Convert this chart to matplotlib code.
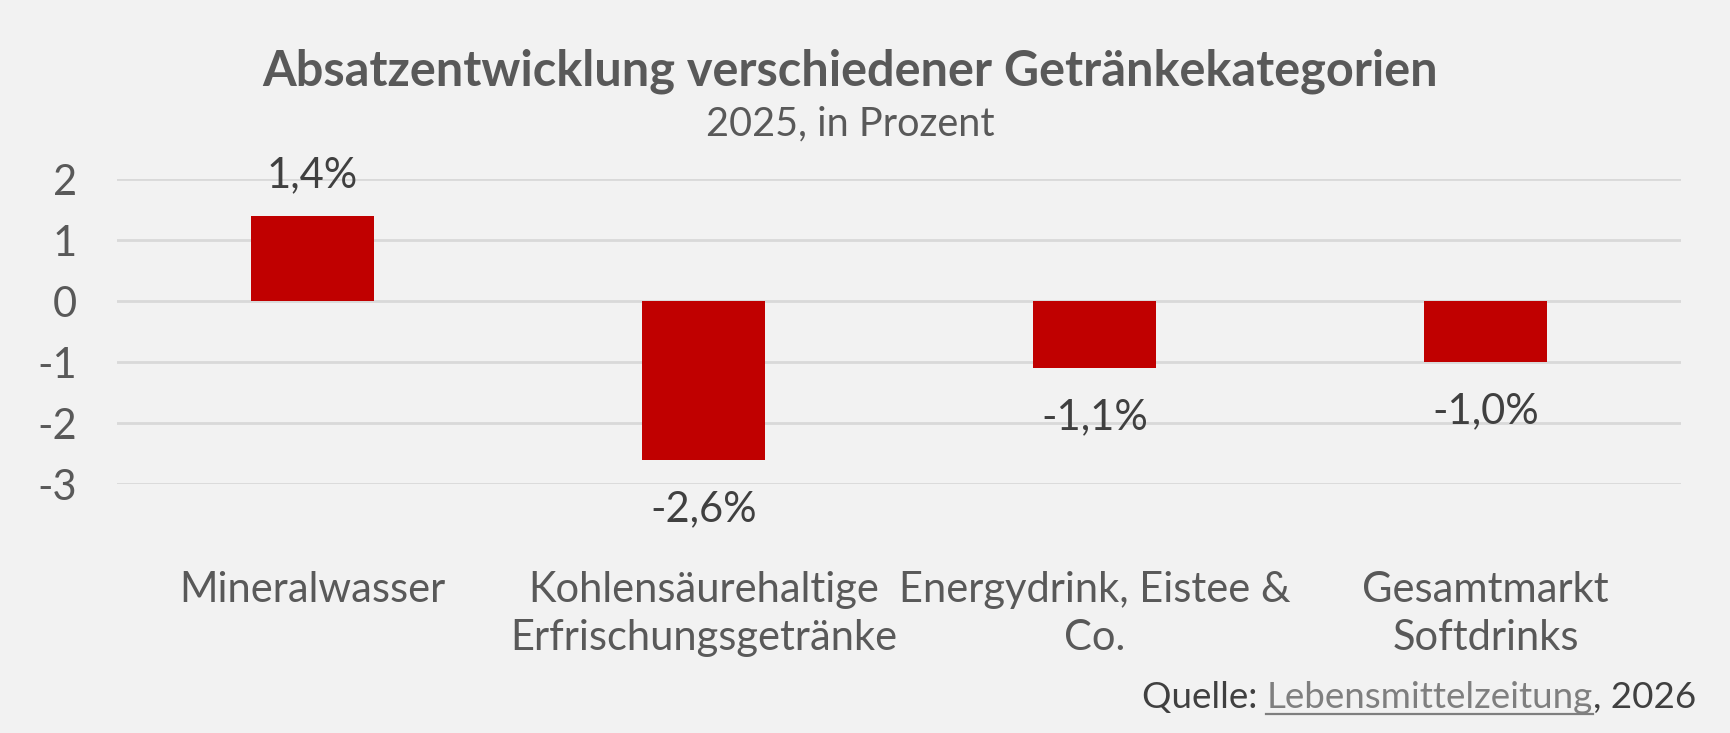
import matplotlib
matplotlib.use("Agg")
import matplotlib.pyplot as plt
import matplotlib.transforms as mtransforms
from matplotlib.lines import Line2D

# Daten
categories = [
    "Mineralwasser",
    "Kohlensäurehaltige\nErfrischungsgetränke",
    "Energydrink, Eistee &\nCo.",
    "Gesamtmarkt\nSoftdrinks",
]
values = [1.4, -2.6, -1.1, -1.0]
value_labels = ["1,4%", "-2,6%", "-1,1%", "-1,0%"]
y_ticks = [2, 1, 0, -1, -2, -3]
y_tick_labels = ["2", "1", "0", "-1", "-2", "-3"]

title = "Absatzentwicklung verschiedener Getränkekategorien"
subtitle = "2025, in Prozent"

plt.rcParams["font.family"] = ["Lato", "DejaVu Sans"]
plt.rcParams["axes.unicode_minus"] = False

W, H = 1731, 733
bg = "#f2f2f2"
fig = plt.figure(figsize=(W / 100, H / 100), dpi=100, facecolor=bg)

# Plotbereich (Pixel aus der Vorlage)
left, right, top, bottom = 117, 1681, 179.3, 484.3
ax = fig.add_axes([left / W, 1 - bottom / H, (right - left) / W, (bottom - top) / H])
ax.set_facecolor(bg)

x = list(range(len(categories)))
ax.bar(x, values, width=0.315, color="#c00000", zorder=3)

ax.set_xlim(-0.5, len(categories) - 0.5)
ax.set_ylim(-3, 2)
ax.set_yticks(y_ticks)
ax.set_yticklabels(y_tick_labels, fontsize=30, color="#595959")
ax.tick_params(axis="y", length=0, pad=29)
for lbl in ax.get_yticklabels():
    lbl.set_verticalalignment("center_baseline")
ax.set_xticks([])
ax.grid(axis="y", color="#d9d9d9", linewidth=2.0, zorder=0)
for s in ax.spines.values():
    s.set_visible(False)

# Datenbeschriftungen
for xi, v, lab in zip(x, values, value_labels):
    off = 21 if v >= 0 else -44
    ax.annotate(lab, (xi, v), xytext=(0, off), textcoords="offset points",
                ha="center", va="baseline", fontsize=30, color="#404040")

# Kategorienbeschriftung unterhalb (jede Zeile einzeln)
trans = mtransforms.blended_transform_factory(ax.transData, fig.transFigure)
for xi, cat in zip(x, categories):
    for i, line in enumerate(cat.split("\n")):
        ax.text(xi, 1 - (602 + 48 * i) / H, line, transform=trans, ha="center",
                va="baseline", fontsize=30, color="#595959")

# Titel
fig.text(850.5 / W, 1 - 85 / H, title, ha="center", va="baseline",
         fontsize=35, fontweight="bold", color="#595959")
fig.text(850.5 / W, 1 - 135 / H, subtitle, ha="center", va="baseline",
         fontsize=28.5, color="#595959")

# Quelle mit unterstrichenem Link
renderer = fig.canvas.get_renderer()
src_y = 1 - 708 / H
t3 = fig.text(1696 / W, src_y, ", 2026", ha="right", va="baseline",
              fontsize=26.5, color="#404040")
bb3 = t3.get_window_extent(renderer)
t2 = fig.text(bb3.x0 / W, src_y, "Lebensmittelzeitung", ha="right", va="baseline",
              fontsize=26.5, color="#7f7f7f")
bb2 = t2.get_window_extent(renderer)
t1 = fig.text(bb2.x0 / W, src_y, "Quelle: ", ha="right", va="baseline",
              fontsize=26.5, color="#404040")
ul_y = (H - 708 - 6) / H
fig.add_artist(Line2D([bb2.x0 / W, bb2.x1 / W], [ul_y, ul_y],
                      color="#7f7f7f", linewidth=1.6, transform=fig.transFigure))

fig.savefig("out.png", dpi=100, facecolor=bg)
